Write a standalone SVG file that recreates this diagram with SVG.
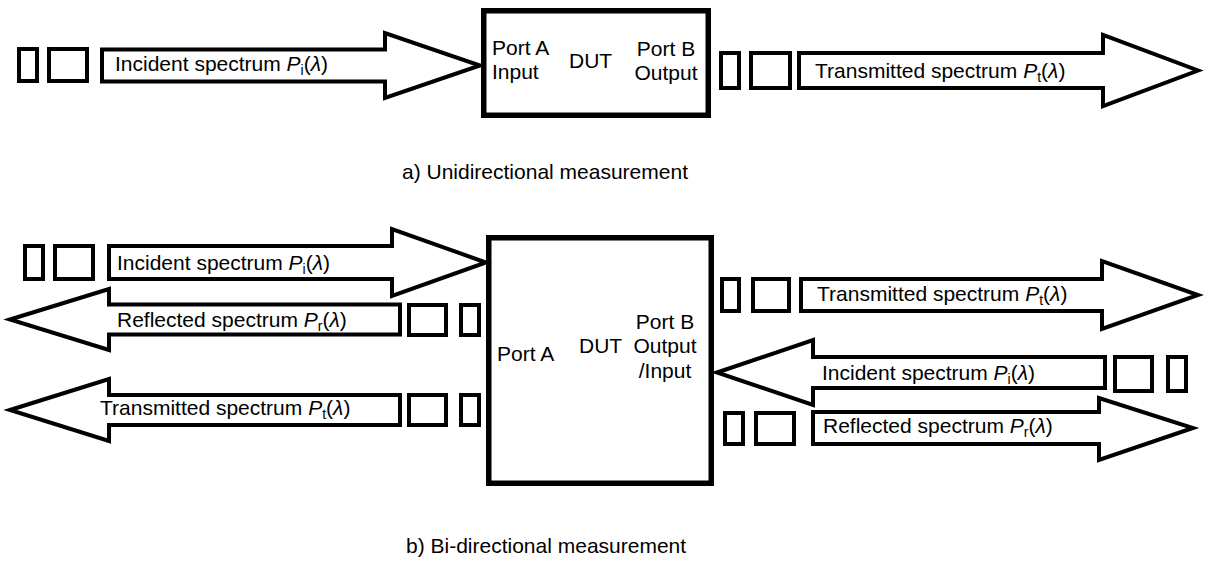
<svg xmlns="http://www.w3.org/2000/svg" width="1209" height="561" viewBox="0 0 1209 561">
  <style>
    .shape { fill: #ffffff; stroke: #000000; stroke-width: 4; stroke-linejoin: miter; }
    .dut { fill: #ffffff; stroke: #000000; stroke-width: 5.5; }
    text { font-family: "Liberation Sans", Arial, sans-serif; font-size: 21px; fill: #000000; }
    .mid { text-anchor: middle; }
    .it { font-style: italic; }
    .sub { font-size: 14px; }
  </style>
  <rect width="1209" height="561" fill="#ffffff"/>

  <!-- a) Unidirectional measurement -->
  <g id="a-dut">
    <rect class="dut" x="483.75" y="10.75" width="224.5" height="104.5"/>
    <text x="492" y="55">Port A</text>
    <text x="492" y="79">Input</text>
    <text x="569" y="68">DUT</text>
    <text class="mid" x="666" y="56">Port B</text>
    <text class="mid" x="666" y="80">Output</text>
  </g>
  <g id="a-source">
    <rect class="shape" x="19" y="49" width="18" height="32"/>
    <rect class="shape" x="49" y="49" width="38" height="32"/>
  </g>
  <g id="a-detector">
    <rect class="shape" x="721" y="53" width="18" height="35"/>
    <rect class="shape" x="751" y="53" width="39" height="35"/>
  </g>
  <g id="a-arrows">
    <path class="shape" d="M102,49.5 H385 V33 L480,65.5 L385,98 V81.5 H102 Z"/>
    <text x="115" y="71">Incident spectrum <tspan class="it">P</tspan><tspan class="sub" dy="4">i</tspan><tspan dy="-4">(</tspan><tspan class="it">λ</tspan>)</text>
    <path class="shape" d="M799,53 H1103 V35 L1198,70.5 L1103,106 V88 H799 Z"/>
    <text x="815" y="78">Transmitted spectrum <tspan class="it">P</tspan><tspan class="sub" dy="4">t</tspan><tspan dy="-4">(</tspan><tspan class="it">λ</tspan>)</text>
  </g>
  <text x="402" y="179">a) Unidirectional measurement</text>

  <!-- b) Bi-directional measurement -->
  <g id="b-dut">
    <rect class="dut" x="488.75" y="237.75" width="222.5" height="245.5"/>
    <text x="497" y="361">Port A</text>
    <text x="579" y="353">DUT</text>
    <text class="mid" x="665" y="329">Port B</text>
    <text class="mid" x="665" y="353">Output</text>
    <text class="mid" x="665" y="378">/Input</text>
  </g>
  <g id="b-port-a-source">
    <rect class="shape" x="25" y="246" width="18" height="33"/>
    <rect class="shape" x="55" y="246" width="38" height="33"/>
  </g>
  <g id="b-port-a-detector-r">
    <rect class="shape" x="409" y="305" width="37" height="30"/>
    <rect class="shape" x="461" y="305" width="18" height="30"/>
  </g>
  <g id="b-port-a-detector-t">
    <rect class="shape" x="409" y="395" width="37" height="30"/>
    <rect class="shape" x="461" y="395" width="18" height="30"/>
  </g>
  <g id="b-port-b-detector-t">
    <rect class="shape" x="722" y="279" width="17" height="32"/>
    <rect class="shape" x="753" y="279" width="36" height="32"/>
  </g>
  <g id="b-port-b-source">
    <rect class="shape" x="1115" y="357" width="37" height="34"/>
    <rect class="shape" x="1168" y="357" width="18" height="34"/>
  </g>
  <g id="b-port-b-detector-r">
    <rect class="shape" x="725" y="413" width="18" height="31"/>
    <rect class="shape" x="756" y="413" width="38" height="31"/>
  </g>
  <g id="b-arrows">
    <path class="shape" d="M109,246 H392 V229 L486,262.5 L392,296 V279 H109 Z"/>
    <text x="117" y="270">Incident spectrum <tspan class="it">P</tspan><tspan class="sub" dy="4">i</tspan><tspan dy="-4">(</tspan><tspan class="it">λ</tspan>)</text>
    <path class="shape" d="M10,319.5 L109,289 V304.5 H400 V334.5 H109 V350 Z"/>
    <text x="117" y="327">Reflected spectrum <tspan class="it">P</tspan><tspan class="sub" dy="4">r</tspan><tspan dy="-4">(</tspan><tspan class="it">λ</tspan>)</text>
    <path class="shape" d="M10,410 L109,379 V395 H400 V425 H109 V441 Z"/>
    <text x="100" y="415">Transmitted spectrum <tspan class="it">P</tspan><tspan class="sub" dy="4">t</tspan><tspan dy="-4">(</tspan><tspan class="it">λ</tspan>)</text>
    <path class="shape" d="M801,279 H1102 V261 L1198,295 L1102,329 V311 H801 Z"/>
    <text x="817" y="301">Transmitted spectrum <tspan class="it">P</tspan><tspan class="sub" dy="4">t</tspan><tspan dy="-4">(</tspan><tspan class="it">λ</tspan>)</text>
    <path class="shape" d="M717,372.5 L813,340 V357 H1105 V388 H813 V405 Z"/>
    <text x="822" y="380">Incident spectrum <tspan class="it">P</tspan><tspan class="sub" dy="4">i</tspan><tspan dy="-4">(</tspan><tspan class="it">λ</tspan>)</text>
    <path class="shape" d="M813,412 H1099 V398 L1193,428 L1099,460 V444 H813 Z"/>
    <text x="823" y="433">Reflected spectrum <tspan class="it">P</tspan><tspan class="sub" dy="4">r</tspan><tspan dy="-4">(</tspan><tspan class="it">λ</tspan>)</text>
  </g>
  <text x="406" y="553">b) Bi-directional measurement</text>
</svg>
